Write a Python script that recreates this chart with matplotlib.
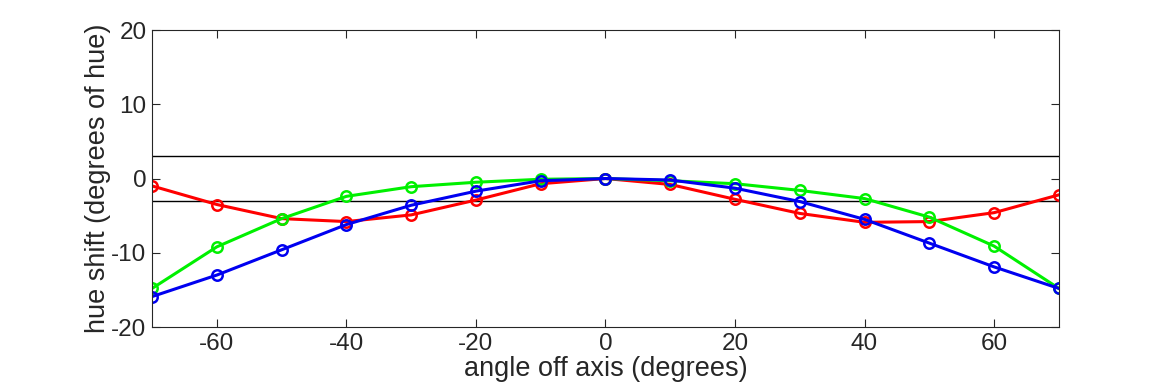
import matplotlib
matplotlib.use("Agg")
from matplotlib import pyplot as plt

angles = [-70, -60, -50, -40, -30, -20, -10, 0, 10, 20, 30, 40, 50, 60, 70]
red = [-1.0, -3.5, -5.4, -5.8, -4.9, -2.9, -0.7, 0.0, -0.8, -2.8, -4.7, -5.9, -5.8, -4.6, -2.2]
green = [-14.8, -9.2, -5.4, -2.4, -1.1, -0.5, -0.1, 0.0, -0.3, -0.7, -1.6, -2.7, -5.2, -9.1, -14.8]
blue = [-15.9, -13.0, -9.6, -6.2, -3.6, -1.7, -0.3, 0.0, -0.2, -1.3, -3.1, -5.5, -8.7, -11.9, -14.8]
limits = [3, -3]
xticks = [-60, -40, -20, 0, 20, 40, 60]
yticks = [-20, -10, 0, 10, 20]

plt.rcParams["font.family"] = ["Liberation Sans", "DejaVu Sans"]
plt.rcParams["axes.unicode_minus"] = False

fig = plt.figure(figsize=(11.7, 3.9), dpi=100)
ax = fig.add_axes([0.13, 0.1615, 0.775, 0.7615])

for y in limits:
    ax.axhline(y=y, color="black", linewidth=1.0)

for vals, col in ((red, "#ff0000"), (green, "#00f000"), (blue, "#0000f0")):
    ax.plot(angles, vals, color=col, linewidth=2.2, marker="o",
            markersize=7.5, markerfacecolor="none", markeredgewidth=1.8)

ax.set_xlim(-70, 70)
ax.set_ylim(-20, 20)
ax.set_xticks(xticks)
ax.set_yticks(yticks)
ax.tick_params(direction="in", top=True, right=True, length=6, pad=4,
               width=0.8, labelsize=17.5, colors="#262626", labelcolor="#262626")
for s in ax.spines.values():
    s.set_linewidth(0.8)
    s.set_color("#262626")

ax.set_xlabel("angle off axis (degrees)", fontsize=19.5, labelpad=1, color="#262626")
ax.set_ylabel("hue shift (degrees of hue)", fontsize=19.5, labelpad=0, color="#262626")

fig.savefig("out.png", dpi=100)
